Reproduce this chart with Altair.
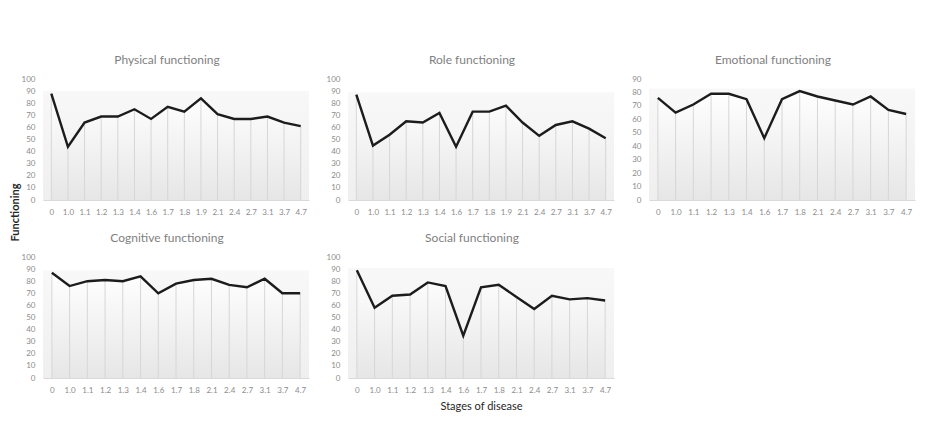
import altair as alt
import pandas as pd

cats16 = ["0", "1.0", "1.1", "1.2", "1.3", "1.4", "1.6", "1.7", "1.8", "1.9",
          "2.1", "2.4", "2.7", "3.1", "3.7", "4.7"]
cats15 = ["0", "1.0", "1.1", "1.2", "1.3", "1.4", "1.6", "1.7", "1.8",
          "2.1", "2.4", "2.7", "3.1", "3.7", "4.7"]

physical = [88, 44, 64, 69, 69, 75, 67, 77, 73, 84, 71, 67, 67, 69, 64, 61]
role = [87, 45, 54, 65, 64, 72, 44, 73, 73, 78, 64, 53, 62, 65, 59, 51]
emotional = [76, 65, 71, 79, 79, 75, 46, 75, 81, 77, 74, 71, 77, 67, 64]
cognitive = [87, 76, 80, 81, 80, 84, 70, 78, 81, 82, 77, 75, 82, 70, 70]
social = [89, 58, 68, 69, 79, 76, 35, 75, 77, 67, 57, 68, 65, 66, 64]

W = 266
H = 121
FONT = "Lato"


def panel(title, cats, vals, ymax, xtitle=None):
    df = pd.DataFrame({"stage": cats, "value": vals, "zero": [0] * len(cats)})
    bg = pd.DataFrame({"top": [max(vals) + 2], "zero": [0]})
    yscale = alt.Scale(domain=[0, ymax], nice=False)
    yaxis = alt.Axis(values=list(range(0, ymax + 1, 10)), title=None,
                     labelPadding=8)
    xaxis = alt.Axis(title=xtitle, labelAngle=0, labelPadding=8,
                     domain=True, domainColor="#d9d9d9",
                     titleFont=FONT, titleFontSize=11, titleColor="#262626",
                     titleFontWeight="normal", titlePadding=6)
    x = alt.X("stage:N", sort=cats, scale=alt.Scale(type="point", padding=0.5),
              axis=xaxis)

    back = alt.Chart(bg).mark_rect(
        color=alt.Gradient(gradient="linear",
                           stops=[alt.GradientStop(color="#f8f8f8", offset=0),
                                  alt.GradientStop(color="#efefef", offset=1)],
                           x1=1, x2=1, y1=0, y2=1)
    ).encode(x=alt.value(0), x2=alt.value(W),
             y=alt.Y("top:Q", scale=yscale, axis=yaxis), y2="zero:Q")

    area = alt.Chart(df).mark_area(
        color=alt.Gradient(gradient="linear",
                           stops=[alt.GradientStop(color="#ffffff", offset=0),
                                  alt.GradientStop(color="#e6e6e6", offset=1)],
                           x1=1, x2=1, y1=0, y2=1)
    ).encode(x=x, y=alt.Y("value:Q", scale=yscale, axis=yaxis))

    rules = alt.Chart(df).mark_rule(color="#d6d6d6", strokeWidth=1).encode(
        x=x, y=alt.Y("value:Q", scale=yscale, axis=yaxis), y2="zero:Q")

    line = alt.Chart(df).mark_line(color="#1c1c1c", strokeWidth=2.4).encode(
        x=x, y=alt.Y("value:Q", scale=yscale, axis=yaxis))

    return alt.layer(back, area, rules, line).properties(
        width=W, height=H,
        title=alt.TitleParams(title, fontSize=12, color="#7f7f7f", font=FONT,
                              fontWeight="normal", offset=8, dx=-9))


p1 = panel("Physical functioning", cats16, physical, 100)
p2 = panel("Role functioning", cats16, role, 100)
p3 = panel("Emotional functioning", cats15, emotional, 90)
p4 = panel("Cognitive functioning", cats15, cognitive, 100)
p5 = panel("Social functioning", cats15, social, 100, xtitle="Stages of disease")

row1 = alt.hconcat(p1, p2, p3, spacing=17)
row2 = alt.hconcat(p4, p5, spacing=17)

chart = alt.vconcat(row1, row2, spacing=16).properties(
    title=alt.TitleParams("Functioning", orient="left", anchor="middle",
                          fontSize=11, fontWeight="bold", color="#262626",
                          font=FONT, offset=0, dx=20),
    padding={"left": 2, "top": 46, "right": 5, "bottom": 5},
).configure_axis(
    grid=False, ticks=False, domain=False,
    labelColor="#8c8c8c", labelFont=FONT, labelFontSize=8,
).configure_view(stroke=None)

chart.save("out.html", embed_options={"renderer": "svg", "actions": False})
